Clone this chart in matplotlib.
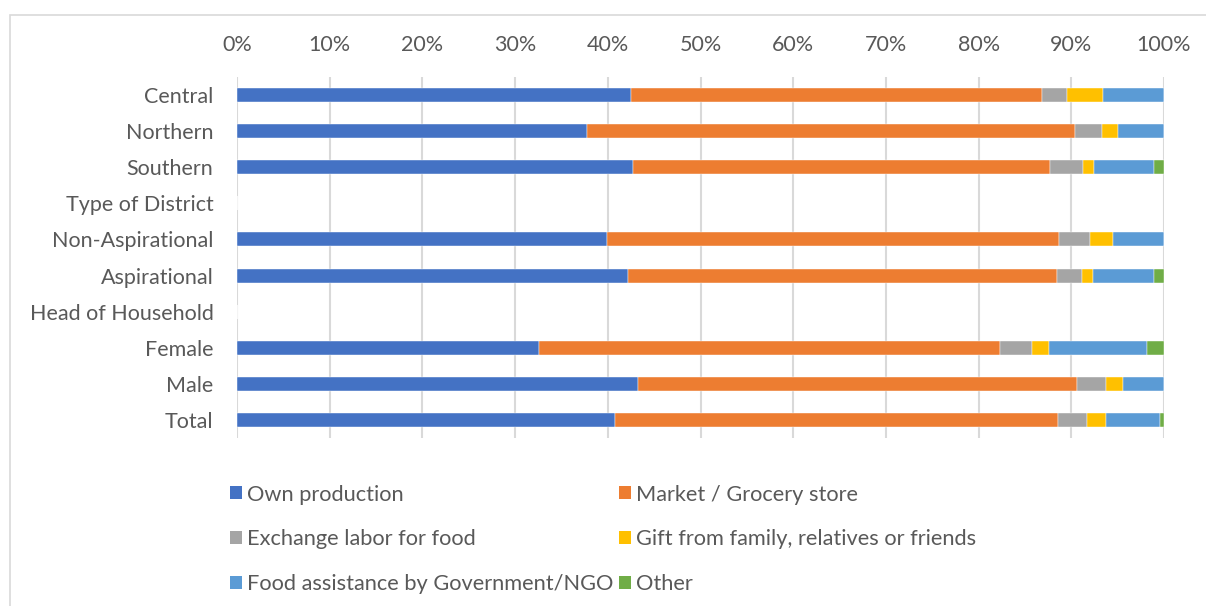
import matplotlib
matplotlib.use("Agg")
import matplotlib.pyplot as plt
from matplotlib.patches import Rectangle, Patch
import numpy as np

categories = ["Central", "Northern", "Southern", "Type of District",
              "Non-Aspirational", "Aspirational", "Head of Household",
              "Female", "Male", "Total"]
series_names = ["Own production", "Market / Grocery store", "Exchange labor for food",
                "Gift from family, relatives or friends",
                "Food assistance by Government/NGO", "Other"]
own_production = [42.5, 37.8, 42.7, 0, 39.9, 42.2, 0, 32.6, 43.3, 40.8]
market = [44.3, 52.6, 45.0, 0, 48.8, 46.3, 0, 49.7, 47.3, 47.8]
exchange = [2.7, 2.9, 3.6, 0, 3.3, 2.7, 0, 3.5, 3.1, 3.1]
gift = [3.9, 1.7, 1.1, 0, 2.5, 1.1, 0, 1.8, 1.9, 2.0]
food_assist = [6.6, 5.0, 6.5, 0, 5.5, 6.6, 0, 10.6, 4.4, 5.9]
other = [0.0, 0.0, 1.1, 0, 0.0, 1.1, 0, 1.8, 0.0, 0.4]
tick_values = [0, 10, 20, 30, 40, 50, 60, 70, 80, 90, 100]
tick_labels = ["0%", "10%", "20%", "30%", "40%", "50%", "60%", "70%", "80%", "90%", "100%"]

colors = ["#4472C4", "#ED7D31", "#A5A5A5", "#FFC000", "#5B9BD5", "#70AD47"]
text_color = "#595959"
FONT = ["Lato", "DejaVu Sans"]
plt.rcParams["font.family"] = FONT

W, H = 1206, 606
fig = plt.figure(figsize=(W / 100, H / 100), dpi=100)

# chart border
fig.patches.append(Rectangle((10 / W, -0.1), 1.2, 1 - 15 / H + 0.1, transform=fig.transFigure,
                             fill=False, edgecolor="#D9D9D9", linewidth=1.2))

ax = fig.add_axes([237 / W, 1 - 438 / H, (1164 - 237) / W, (438 - 77) / H])
all_series = [own_production, market, exchange, gift, food_assist, other]
data = np.array(all_series, dtype=float)
totals = data.sum(axis=0)
y = np.arange(len(categories))
left = np.zeros(len(categories))
for i, vals in enumerate(data):
    v = np.where(totals > 0, vals / np.where(totals > 0, totals, 1) * 100, 0)
    ax.barh(y, v, left=left, height=0.39, color=colors[i], label=series_names[i],
            edgecolor="white", linewidth=0.3, zorder=3)
    left += v

ax.set_xlim(0, 100)
ax.set_ylim(len(categories) - 0.5, -0.5)
ax.xaxis.tick_top()
ax.set_xticks(tick_values)
ax.set_xticklabels(tick_labels)
ax.tick_params(axis="x", length=0, pad=16, labelsize=15.5, labelcolor=text_color)
ax.set_yticks(y)
ax.set_yticklabels(categories)
ax.tick_params(axis="y", length=0, pad=17, labelsize=15.5, labelcolor=text_color)
ax.grid(axis="x", color="#D9D9D9", linewidth=1.5, zorder=0)
for s in ax.spines.values():
    s.set_visible(False)

handles = [Patch(facecolor=c) for c in colors]
order = [0, 2, 4, 1, 3, 5]
leg = fig.legend([handles[i] for i in order], [series_names[i] for i in order],
                 ncol=2, loc="upper left", bbox_to_anchor=(210 / W, 1 - 465 / H),
                 frameon=False, fontsize=15.7, handlelength=0.55, handleheight=0.55,
                 handletextpad=0.25, columnspacing=0.25, labelspacing=1.14,
                 labelcolor=text_color)

fig.savefig("out.png", dpi=100)
